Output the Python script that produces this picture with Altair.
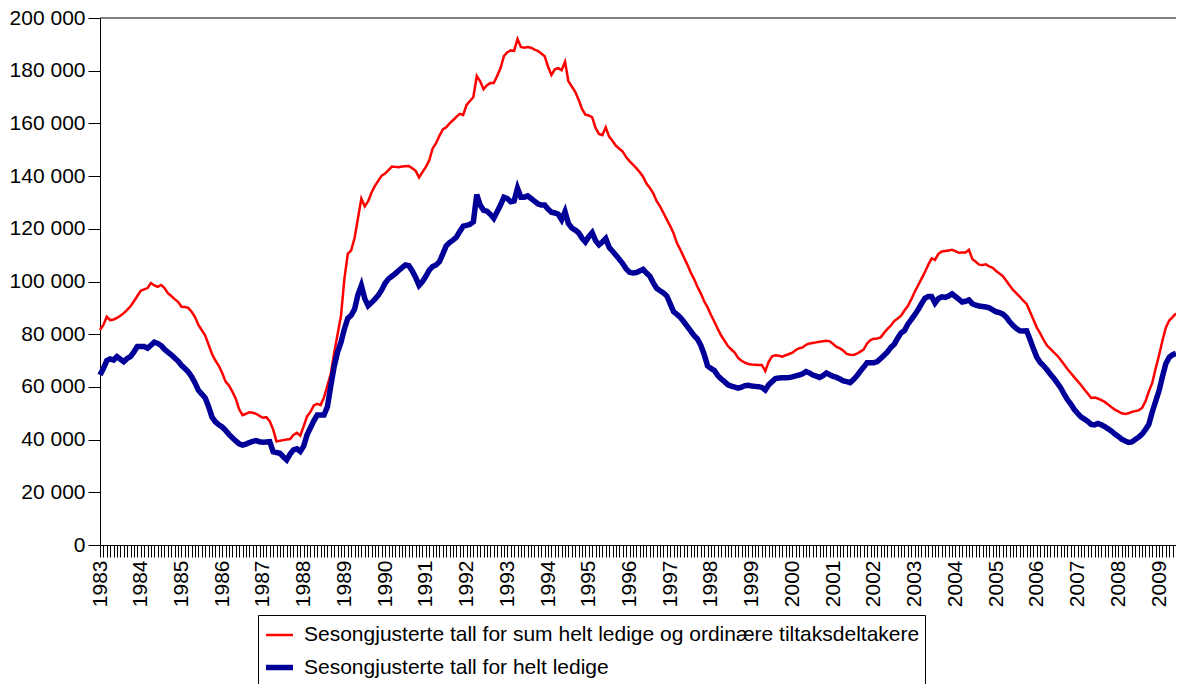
import altair as alt
import pandas as pd

start_year = 1983
series_sum = "Sesongjusterte tall for sum helt ledige og ordinære tiltaksdeltakere"
series_helt = "Sesongjusterte tall for helt ledige"

# Monthly values (thousands), January 1983 onwards
sum_ledige = [
    81.6, 83.5, 86.6, 85.3, 85.6, 86.2, 87.0, 88.0, 89.2, 90.6, 92.5, 94.5,      # 1983
    96.5, 97.0, 97.5, 99.4, 98.5, 98.0, 98.7, 97.5, 95.6, 94.5, 93.3, 92.3,      # 1984
    90.4, 90.3, 90.0, 88.5, 86.5, 83.5, 81.5, 79.5, 76.0, 72.5, 70.0, 68.0,      # 1985
    65.3, 62.0, 60.5, 58.2, 55.5, 51.5, 49.3, 49.8, 50.4, 50.2, 49.8, 49.0,      # 1986
    48.3, 48.5, 47.0, 43.9, 39.3, 39.6, 39.8, 40.0, 40.2, 41.8, 42.6, 41.5,      # 1987
    45.0, 48.8, 50.5, 53.0, 53.6, 53.1, 56.0, 60.5, 65.0, 73.0, 80.0, 87.0,      # 1988
    101.0, 110.5, 111.8, 116.5, 124.0, 131.5, 128.5, 130.5, 133.8, 136.3, 138.3, 140.2,  # 1989
    141.0, 142.3, 143.6, 143.5, 143.4, 143.6, 143.7, 143.8, 143.0, 142.0, 139.5, 141.5,  # 1990
    143.5, 146.0, 150.5, 152.5, 155.3, 157.7, 158.5, 160.0, 161.2, 162.5, 163.6, 163.2,  # 1991
    167.0, 168.5, 170.0, 178.0, 176.0, 173.0, 174.5, 175.3, 175.3, 178.0, 181.0, 185.5,  # 1992
    187.0, 187.7, 187.5, 192.0, 189.0, 188.7, 189.0, 188.7, 188.0, 187.5, 186.5, 185.5,  # 1993
    181.5, 178.4, 180.5, 181.0, 180.2, 183.4, 176.0, 174.0, 172.0, 169.0, 165.5, 163.3,  # 1994
    163.0, 162.3, 158.3, 156.0, 155.5, 158.5, 155.0, 153.3, 151.5, 150.4, 149.3, 147.2,  # 1995
    145.7, 144.4, 143.0, 141.5, 139.8, 137.2, 135.5, 133.5, 130.5, 128.5, 126.0, 123.5,  # 1996
    121.0, 118.2, 114.5, 112.0, 109.2, 106.5, 103.5, 101.0, 98.0, 95.5, 92.5, 90.2,      # 1997
    87.3, 84.7, 82.0, 79.5, 77.5, 75.5, 74.2, 73.0, 71.0, 69.9, 69.2, 68.7,      # 1998
    68.5, 68.4, 68.3, 68.3, 66.0, 69.5, 71.6, 72.0, 71.8, 71.5, 72.0, 72.5,      # 1999
    73.0, 74.0, 74.7, 75.0, 76.0, 76.5, 76.7, 76.9, 77.1, 77.3, 77.5, 77.3,      # 2000
    76.3, 75.2, 74.6, 73.7, 72.5, 72.2, 72.1, 72.6, 73.4, 74.2, 76.5, 77.8,      # 2001
    78.3, 78.4, 78.8, 80.5, 82.0, 83.3, 85.0, 86.0, 87.0, 89.0, 90.7, 93.2,      # 2002
    96.0, 98.5, 101.0, 103.5, 106.3, 108.8, 108.2, 110.5, 111.4, 111.6, 111.8, 112.0,  # 2003
    111.5, 110.9, 111.0, 111.0, 112.0, 108.5, 107.5, 106.4, 106.3, 106.5, 105.7, 105.2,  # 2004
    104.0, 103.0, 102.0, 100.3, 98.5, 96.8, 95.5, 94.2, 92.7, 91.5, 88.5, 85.5,  # 2005
    82.5, 80.3, 77.8, 75.7, 74.4, 73.1, 71.9, 70.3, 68.6, 66.8, 65.3, 63.7,      # 2006
    62.2, 60.7, 59.0, 57.5, 55.8, 56.0, 55.6, 55.0, 54.3, 53.3, 52.3, 51.4,      # 2007
    50.7, 50.0, 49.7, 50.0, 50.5, 50.8, 51.1, 52.0, 54.5, 58.3, 61.5, 67.0,      # 2008
    72.0, 77.5, 82.5, 85.2, 86.5, 87.9,                                          # 2009
]

helt_ledige = [
    64.5, 67.0, 70.0, 70.6, 70.2, 71.5, 70.5, 69.6, 70.8, 71.5, 73.3, 75.3,      # 1983
    75.3, 75.3, 74.7, 75.8, 77.0, 76.5, 75.7, 74.3, 73.2, 72.2, 71.0, 69.8,      # 1984
    68.2, 67.0, 65.7, 63.9, 61.5, 58.7, 57.3, 55.8, 52.5, 48.5, 46.7, 45.6,      # 1985
    44.8, 43.5, 42.0, 40.7, 39.5, 38.4, 37.9, 38.3, 38.9, 39.3, 39.6, 39.2,      # 1986
    39.0, 39.1, 39.2, 35.4, 35.1, 34.8, 33.5, 32.3, 34.5, 36.1, 36.5, 35.5,      # 1987
    37.5, 41.8, 44.5, 47.1, 49.3, 49.3, 49.3, 52.5, 60.5, 67.8, 73.2, 77.0,      # 1988
    82.0, 86.0, 87.2, 89.5, 95.0, 98.5, 93.5, 90.8, 92.0, 93.3, 94.8, 96.8,      # 1989
    99.3, 101.0, 102.0, 103.0, 104.2, 105.3, 106.3, 106.0, 104.0, 101.5, 98.5, 100.0,  # 1990
    102.0, 104.3, 105.7, 106.3, 107.5, 110.5, 113.5, 114.8, 115.7, 116.8, 119.0, 121.0,  # 1991
    121.3, 121.7, 122.7, 133.0, 129.0, 127.0, 126.7, 125.5, 124.0, 126.5, 129.0, 132.0,  # 1992
    131.5, 130.3, 130.6, 135.4, 132.0, 132.0, 132.5, 131.5, 130.5, 129.5, 129.0, 129.0,  # 1993
    127.5, 126.3, 126.0, 125.5, 123.4, 126.5, 122.0, 120.3, 119.5, 118.5, 116.5, 115.0,  # 1994
    117.0, 118.5, 115.5, 113.9, 115.0, 116.3, 113.0, 111.5, 110.0, 108.4, 106.8, 104.8,  # 1995
    103.5, 103.2, 103.4, 104.0, 104.6, 103.2, 102.0, 99.5, 97.4, 96.5, 95.7, 94.5,     # 1996
    91.5, 88.5, 87.5, 86.3, 84.7, 83.0, 81.3, 79.5, 78.2, 75.8, 72.3, 68.0,      # 1997
    67.0, 66.2, 64.3, 63.0, 62.0, 60.8, 60.3, 59.9, 59.5, 59.9, 60.5, 60.6,      # 1998
    60.3, 60.2, 60.1, 59.8, 58.8, 60.8, 62.0, 63.2, 63.4, 63.5, 63.5, 63.6,      # 1999
    63.8, 64.2, 64.5, 65.0, 65.8, 65.3, 64.5, 64.1, 63.6, 64.3, 65.3, 64.6,      # 2000
    64.0, 63.6, 63.0, 62.3, 62.0, 61.6, 62.8, 64.2, 66.0, 67.5, 69.2, 69.2,      # 2001
    69.2, 69.6, 70.8, 72.0, 73.3, 75.0, 76.2, 78.5, 80.5, 81.4, 83.8, 85.5,      # 2002
    87.3, 89.3, 91.5, 93.6, 94.3, 94.3, 91.8, 93.5, 94.2, 94.0, 94.5, 95.3,      # 2003
    94.3, 93.3, 92.2, 92.5, 93.0, 91.6, 91.0, 90.7, 90.5, 90.3, 90.0, 89.2,      # 2004
    88.5, 88.2, 87.6, 86.5, 84.7, 83.3, 82.1, 81.3, 81.2, 81.3, 78.0, 74.5,      # 2005
    71.3, 69.3, 68.0, 66.5, 64.8, 63.3, 61.5, 59.7, 57.4, 55.2, 53.5, 51.5,      # 2006
    50.0, 48.6, 47.8, 46.9, 45.8, 45.6, 46.1, 45.6, 44.9, 44.1, 43.2, 42.1,      # 2007
    41.2, 40.2, 39.5, 38.9, 39.1, 40.0, 40.9, 42.1, 43.8, 45.8, 50.5, 54.5,      # 2008
    58.5, 63.9, 68.8, 71.2, 72.2, 72.7,                                          # 2009
]

y_ticks = list(range(0, 200001, 20000))
series_order = [series_sum, series_helt]
series_colors = ["#ff0000", "#000099"]
series_widths = [2.5, 5.5]

n = len(sum_ledige)
df = pd.DataFrame({
    "m": list(range(n)) * 2,
    "v": [v * 1000 for v in sum_ledige] + [v * 1000 for v in helt_ledige],
    "s": [series_sum] * n + [series_helt] * n,
})

FONT = "Liberation Sans"
FS = 21

x_enc = alt.X(
    "m:Q",
    scale=alt.Scale(domain=[0, n - 1], nice=False, zero=False),
    axis=alt.Axis(
        values=list(range(n)),
        labelExpr=f"datum.value % 12 == 0 ? toString({start_year} + datum.value / 12) : ''",
        labelAngle=270, labelAlign="right", labelBaseline="middle",
        labelPadding=3, labelOverlap=False, labelFlush=False, labelBound=False,
        tickSize=12, tickColor="black", tickWidth=1,
        domainColor="black", domainWidth=1,
        labelFont=FONT, labelFontSize=FS, labelColor="black",
        grid=False, title=None,
    ),
)

y_scale = alt.Scale(domain=[0, 200000], nice=False)
y_axis = alt.Axis(
    values=y_ticks,
    labelExpr="datum.value == 0 ? '0' : format(datum.value / 1000, 'd') + ' 000'",
    tickSize=12, tickColor="black", tickWidth=1, labelPadding=3,
    domainColor="black", domainWidth=1,
    labelFont=FONT, labelFontSize=FS, labelColor="black",
    grid=False, title=None,
)
y_enc = alt.Y("v:Q", scale=y_scale, axis=y_axis)

color_enc = alt.Color(
    "s:N",
    scale=alt.Scale(domain=series_order, range=series_colors),
    legend=alt.Legend(
        title=None, orient="none", legendX=158, legendY=597,
        direction="vertical", symbolType="stroke", symbolSize=729,
        labelFont=FONT, labelFontSize=FS, labelColor="black",
        strokeColor="black", fillColor="white", padding=5,
        rowPadding=6, labelOffset=8, labelLimit=0,
    ),
)
width_enc = alt.StrokeWidth(
    "s:N",
    scale=alt.Scale(domain=series_order, range=series_widths),
)

base = alt.Chart(df).mark_line().encode(
    x=x_enc, y=y_enc, color=color_enc, strokeWidth=width_enc
)
red_layer = base.transform_filter(alt.datum.s == series_sum)
blue_layer = base.transform_filter(alt.datum.s == series_helt)

top_rule = alt.Chart(pd.DataFrame({"v": [200000]})).mark_rule(
    color="black", strokeWidth=1
).encode(y=alt.Y("v:Q", scale=y_scale, axis=y_axis))

chart = alt.layer(red_layer, blue_layer, top_rule).properties(
    width=1076,
    height=527,
    autosize=alt.AutoSizeParams(type="none"),
    padding={"left": 92, "top": 10, "right": 0, "bottom": 139},
).configure_view(stroke=None)

chart.save("out.html", embed_options={"renderer": "svg", "actions": False})
